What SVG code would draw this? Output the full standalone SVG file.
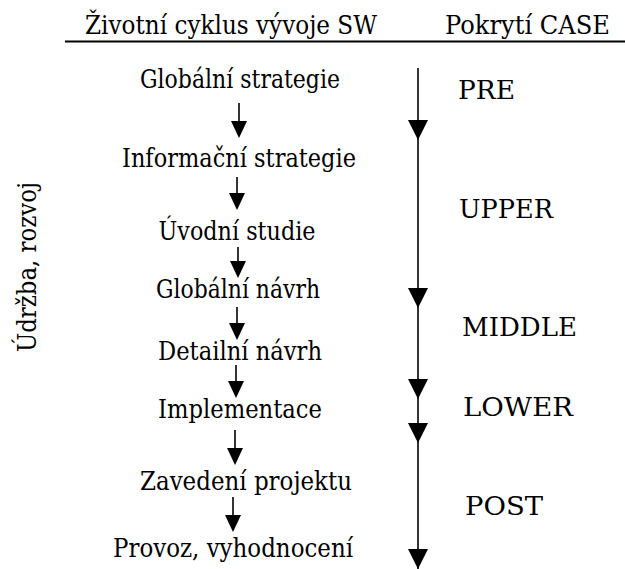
<svg xmlns="http://www.w3.org/2000/svg" width="625" height="569" viewBox="0 0 625 569">
<defs>
<style>
text{font-family:"DejaVu Serif","Liberation Serif",serif;font-size:26px;fill:#000}
.m{text-anchor:middle}
.ln{stroke:#000;stroke-width:1.6;fill:none}
.ah{fill:#000;stroke:none}
</style>
</defs>
<rect width="625" height="569" fill="#fff"/>
<g id="header">
<text x="85" y="34" textLength="292" lengthAdjust="spacingAndGlyphs">Životní cyklus vývoje SW</text>
<text x="445" y="34" textLength="165" lengthAdjust="spacingAndGlyphs">Pokrytí CASE</text>
<line x1="65" y1="41.5" x2="625" y2="41.5" stroke="#000" stroke-width="2"/>
</g>
<g id="side-label">
<text transform="translate(36,267) rotate(-90)" class="m" textLength="170" lengthAdjust="spacingAndGlyphs">Údržba, rozvoj</text>
</g>
<g id="n1"><text x="240" y="88" class="m" textLength="200" lengthAdjust="spacingAndGlyphs">Globální strategie</text></g>
<g id="n2"><text x="239" y="167" class="m" textLength="234" lengthAdjust="spacingAndGlyphs">Informační strategie</text></g>
<g id="n3"><text x="237" y="240" class="m" textLength="157" lengthAdjust="spacingAndGlyphs">Úvodní studie</text></g>
<g id="n4"><text x="238" y="298" class="m" textLength="164" lengthAdjust="spacingAndGlyphs">Globální návrh</text></g>
<g id="n5"><text x="240" y="360" class="m" textLength="164" lengthAdjust="spacingAndGlyphs">Detailní návrh</text></g>
<g id="n6"><text x="240" y="418" class="m" textLength="164" lengthAdjust="spacingAndGlyphs">Implementace</text></g>
<g id="n7"><text x="246" y="490" class="m" textLength="212" lengthAdjust="spacingAndGlyphs">Zavedení projektu</text></g>
<g id="n8"><text x="233" y="557" class="m" textLength="240" lengthAdjust="spacingAndGlyphs">Provoz, vyhodnocení</text></g>
<g id="case-pre"><text x="458" y="99" textLength="57" lengthAdjust="spacingAndGlyphs">PRE</text></g>
<g id="case-upper"><text x="459" y="218" textLength="94" lengthAdjust="spacingAndGlyphs">UPPER</text></g>
<g id="case-middle"><text x="462" y="336" textLength="115" lengthAdjust="spacingAndGlyphs">MIDDLE</text></g>
<g id="case-lower"><text x="463" y="416" textLength="110" lengthAdjust="spacingAndGlyphs">LOWER</text></g>
<g id="case-post"><text x="465" y="515" textLength="78" lengthAdjust="spacingAndGlyphs">POST</text></g>
<g id="connectors">
<line class="ln" x1="239" y1="103" x2="239" y2="125"/>
<path class="ah" d="M231,121 L247,121 L239,138 Z"/>
<line class="ln" x1="237" y1="177" x2="237" y2="197"/>
<path class="ah" d="M229,193 L245,193 L237,210 Z"/>
<line class="ln" x1="238" y1="247" x2="238" y2="265"/>
<path class="ah" d="M230,261 L246,261 L238,278 Z"/>
<line class="ln" x1="237" y1="307" x2="237" y2="327"/>
<path class="ah" d="M229,323 L245,323 L237,340 Z"/>
<line class="ln" x1="236" y1="365" x2="236" y2="385"/>
<path class="ah" d="M228,381 L244,381 L236,398 Z"/>
<line class="ln" x1="235" y1="430" x2="235" y2="452"/>
<path class="ah" d="M227,448 L243,448 L235,465 Z"/>
<line class="ln" x1="233" y1="497" x2="233" y2="519"/>
<path class="ah" d="M225,515 L241,515 L233,532 Z"/>
<line class="ln" x1="418" y1="68" x2="418" y2="569"/>
<path class="ah" d="M408,120 L428,120 L418,140 Z"/>
<path class="ah" d="M408,288 L428,288 L418,308 Z"/>
<path class="ah" d="M408,379 L428,379 L418,399 Z"/>
<path class="ah" d="M408,423 L428,423 L418,443 Z"/>
<path class="ah" d="M408,549 L428,549 L418,569 Z"/>
</g>
</svg>
